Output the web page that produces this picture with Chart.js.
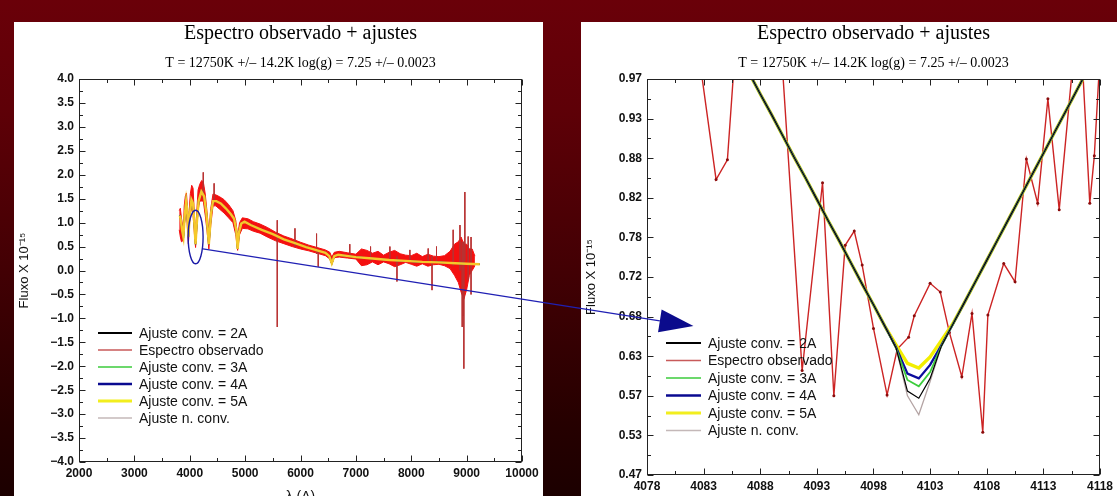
<!DOCTYPE html>
<html><head><meta charset="utf-8">
<script src="https://cdn.jsdelivr.net/npm/chart.js@4.4.0/dist/chart.umd.min.js"></script>
<style>
html,body{margin:0;padding:0;}
body{width:1117px;height:496px;overflow:hidden;position:relative;
 background:linear-gradient(180deg,#6a0009 0%,#5e0007 22%,#420004 55%,#260000 85%,#1c0000 100%);}
.panel{position:absolute;background:#fff;}
#pl{left:14px;top:22px;width:529px;height:474px;}
#pr{left:581px;top:22px;width:536px;height:474px;}
canvas{display:block;}
#ov{position:absolute;left:0;top:0;pointer-events:none;}
</style></head><body>
<div class="panel" id="pl"><canvas id="cl" width="529" height="474"></canvas></div>
<div class="panel" id="pr"><canvas id="cr" width="536" height="474"></canvas></div>
<canvas id="ov" width="1117" height="496"></canvas>
<script>
// ---------- shared text ----------
const chartTitle = 'Espectro observado + ajustes';
const chartSubtitle = 'T = 12750K +/\u2013 14.2K log(g) = 7.25 +/\u2013 0.0023';
const yAxisTitle = 'Fluxo X 10\u207B\u00B9\u2075';
const xAxisTitle = '\u03BB (A)';
const seriesNames = ['Ajuste conv. = 2A','Espectro observado','Ajuste conv. = 3A','Ajuste conv. = 4A','Ajuste conv. = 5A','Ajuste n. conv.'];

// ---------- left chart (full spectrum) ----------
const leftXTicks = [2000,3000,4000,5000,6000,7000,8000,9000,10000];
const leftXTickLabels = ['2000','3000','4000','5000','6000','7000','8000','9000','10000'];
const leftYTicks = [-4,-3.5,-3,-2.5,-2,-1.5,-1,-0.5,0,0.5,1,1.5,2,2.5,3,3.5,4];
const leftYTickLabels = ['\u22124.0','\u22123.5','\u22123.0','\u22122.5','\u22122.0','\u22121.5','\u22121.0','\u22120.5','0.0','0.5','1.0','1.5','2.0','2.5','3.0','3.5','4.0'];

// observed spectrum: noise envelope (upper / lower)
const obsLambda = [3810,3830,3850,3870,3885,3900,3920,3940,3960,3975,
  3990,4010,4035,4060,4085,4105,4125,4150,4180,4215,
  4245,4280,4310,4345,4380,4420,4470,4540,4620,4700,
  4780,4830,4865,4900,4950,5050,5150,5270,5400,5550,
  5700,5850,6000,6150,6300,6450,6530,6565,6610,6700,
  6850,7000,7100,7200,7300,7400,7500,7600,7700,7800,
  7900,8000,8100,8200,8300,8400,8500,8600,8700,8780,
  8850,8900,8950,9000,9050,9100,9150];
const obsHigh = [1.25,1.30,1.10,0.95,0.85,1.35,1.55,1.62,1.30,0.90,
  1.25,1.60,1.78,1.72,1.15,0.75,1.20,1.68,1.80,1.88,
  1.85,1.60,1.25,0.80,1.30,1.60,1.58,1.54,1.48,1.38,
  1.25,1.05,0.72,1.00,1.10,1.08,1.02,0.97,0.90,0.80,
  0.72,0.66,0.59,0.53,0.48,0.43,0.38,0.28,0.38,0.40,
  0.37,0.34,0.45,0.42,0.36,0.40,0.32,0.38,0.42,0.35,
  0.32,0.31,0.36,0.29,0.34,0.30,0.29,0.31,0.40,0.55,
  0.60,0.70,0.55,0.55,0.45,0.45,0.30];
const obsLow = [0.85,0.70,0.60,0.62,0.60,0.95,1.10,1.20,0.85,0.55,
  0.85,1.20,1.30,1.15,0.75,0.48,0.80,1.25,1.45,1.45,
  1.45,1.15,0.85,0.45,0.95,1.35,1.35,1.28,1.20,1.10,
  1.00,0.75,0.42,0.75,0.88,0.87,0.82,0.78,0.70,0.62,
  0.56,0.50,0.45,0.41,0.36,0.31,0.24,0.13,0.27,0.28,
  0.26,0.24,0.10,0.12,0.18,0.12,0.18,0.14,0.08,0.12,
  0.17,0.13,0.09,0.14,0.09,0.12,0.13,0.10,0.04,-0.10,
  -0.25,-0.45,-0.60,-0.40,-0.10,0.00,0.10];
// observed spectrum: isolated spikes
const spikeLambda = [4244,4440,5580,5900,6290,6320,6890,7265,7614,7742,7975,8306,8375,8456,8757,8880,8920,8940,8950,8968,9028,9080];
const spikeHigh =   [2.05,1.82,1.05,0.88,0.77,0.40,0.55,0.50,0.50,0.30,0.43,0.46,0.30,0.50,0.85,0.95,0.60,0.50,0.60,1.64,0.71,0.70];
const spikeLow =    [1.50,1.40,-1.18,0.50,0.35,0.08,0.30,0.20,0.20,-0.23,0.20,0.20,-0.41,0.20,0.10,0.00,-1.18,-0.95,-2.05,0.20,-0.20,-0.50];
// model fit (all convolutions coincide at this scale)
const fitLambda = [3820,3840,3860,3885,3910,3935,3955,3975,3995,4030,
  4060,4085,4105,4125,4160,4210,4260,4300,4345,4385,
  4420,4480,4560,4650,4740,4800,4840,4865,4890,4930,
  4990,5100,5300,5500,5700,5900,6100,6300,6450,6520,
  6565,6610,6680,6800,7000,7300,7600,7900,8200,8500,
  8800,9000,9238];
const fitFlux = [1.15,1.05,0.85,0.70,1.15,1.45,1.25,0.70,1.10,1.48,
  1.40,0.95,0.55,0.95,1.45,1.65,1.55,1.20,0.55,1.20,
  1.45,1.45,1.40,1.30,1.18,1.08,0.85,0.45,0.80,0.98,
  1.02,0.95,0.85,0.76,0.65,0.57,0.49,0.42,0.37,0.30,
  0.15,0.30,0.33,0.31,0.28,0.25,0.22,0.20,0.18,0.17,
  0.15,0.14,0.13];

// ---------- right chart (zoom on H-delta) ----------
const rightXTicks = [4078,4083,4088,4093,4098,4103,4108,4113,4118];
const rightXTickLabels = ['4078','4083','4088','4093','4098','4103','4108','4113','4118'];
const rightYTicks = [0.47,0.52,0.57,0.62,0.67,0.72,0.77,0.82,0.87,0.92,0.97];
const rightYTickLabels = ['0.47','0.53','0.57','0.63','0.68','0.72','0.78','0.82','0.88','0.93','0.97'];

const zoomObsLambda = [4082.4,4084.1,4085.1,4085.9,4089.8,4091.7,4093.5,4094.5,4095.5,4096.3,
  4097.0,4098.0,4099.2,4100.1,4101.1,4101.6,4103.0,4103.9,4104.7,4105.8,
  4106.7,4107.65,4108.1,4109.5,4110.5,4111.5,4112.5,4113.4,4114.4,4115.8,
  4116.3,4117.1,4117.5,4118.2];
const zoomObsFlux = [1.02,0.843,0.868,1.03,1.02,0.602,0.839,0.570,0.760,0.778,
  0.735,0.655,0.571,0.629,0.644,0.671,0.712,0.701,0.650,0.594,
  0.674,0.524,0.672,0.737,0.714,0.869,0.813,0.945,0.805,1.02,
  1.03,0.813,0.873,1.05];

const zoomFitLambda = [4086,4087,4088,4089,4090,4091,4092,4093,4094,4095,4096,4097,4098,4099,4100,4101,4102,4103,4104,4105,4106,4107,4108,4109,4110,4111,4112,4113,4114,4115,4116,4117,4118];
const zoomFit2A = [1.005,0.978,0.951,0.925,0.898,0.871,0.845,0.818,0.791,0.765,0.738,0.711,0.685,0.658,0.630,0.576,0.567,0.592,0.633,0.660,0.687,0.714,0.741,0.768,0.795,0.822,0.849,0.876,0.903,0.930,0.957,0.984,1.011];
const zoomFit3A = [1.005,0.978,0.951,0.925,0.898,0.871,0.845,0.818,0.791,0.765,0.738,0.711,0.685,0.658,0.630,0.590,0.582,0.600,0.633,0.660,0.687,0.714,0.741,0.768,0.795,0.822,0.849,0.876,0.903,0.930,0.957,0.984,1.011];
const zoomFit4A = [1.005,0.978,0.951,0.925,0.898,0.871,0.845,0.818,0.791,0.765,0.738,0.711,0.685,0.658,0.631,0.598,0.592,0.609,0.634,0.660,0.687,0.714,0.741,0.768,0.795,0.822,0.849,0.876,0.903,0.930,0.957,0.984,1.011];
const zoomFit5A = [1.005,0.978,0.951,0.925,0.898,0.871,0.845,0.818,0.791,0.765,0.738,0.711,0.685,0.658,0.634,0.611,0.605,0.619,0.640,0.661,0.687,0.714,0.741,0.768,0.795,0.822,0.849,0.876,0.903,0.930,0.957,0.984,1.011];
const zoomFitN  = [1.005,0.978,0.951,0.925,0.898,0.871,0.845,0.818,0.791,0.765,0.738,0.711,0.685,0.658,0.630,0.570,0.546,0.588,0.633,0.660,0.687,0.714,0.741,0.768,0.795,0.822,0.849,0.876,0.903,0.930,0.957,0.984,1.011];

// annotation (ellipse on left chart, arrow to right chart), in data units
const markEllipse = {x:4106, y:0.70, rx:135, ry:0.56};
const arrowFrom = {x:4238, y:0.45};   // left chart
const arrowTo = {x:4082.1, y:0.658};  // right chart

// ---------- styles ----------
const SANS = '"Liberation Sans", Arial, Helvetica, sans-serif';
const SERIF = '"Liberation Serif", "Times New Roman", serif';
const legendStyle = [
  {color:'#000000', width:2},
  {color:'#c85a5a', width:1.5},
  {color:'#6cd86c', width:2},
  {color:'#0a0a90', width:2.5},
  {color:'#f2ee1e', width:3},
  {color:'#c4b8b8', width:1.5}
];

const pts = (xs, ys) => xs.map((x,i)=>({x, y:ys[i]}));
function spikePts(xs, hi, lo){
  const out = [];
  xs.forEach((x,i)=>{ out.push({x, y:hi[i]}); out.push({x, y:lo[i]}); out.push({x, y:null}); });
  return out;
}

const framePlugin = {
  id:'frame',
  afterDatasetsDraw(chart, args, o){
    const {ctx, chartArea:a, scales} = chart;
    const xs = scales.x, ys = scales.y;
    ctx.save();
    if (o.ellipse){
      const e = o.ellipse;
      const cx = xs.getPixelForValue(e.x), cy = ys.getPixelForValue(e.y);
      const rx = Math.abs(xs.getPixelForValue(e.x+e.rx)-cx), ry = Math.abs(ys.getPixelForValue(e.y+e.ry)-cy);
      ctx.strokeStyle = '#1a1aa8'; ctx.lineWidth = 1.4;
      ctx.beginPath(); ctx.ellipse(cx, cy, rx, ry, 0, 0, Math.PI*2); ctx.stroke();
    }
    const L = Math.round(a.left)+0.5, R = Math.round(a.right)-0.5, T = Math.round(a.top)+0.5, B = Math.round(a.bottom)-0.5;
    ctx.strokeStyle = '#222'; ctx.lineWidth = 1;
    ctx.strokeRect(L, T, R-L, B-T);
    const tickSet = s => {
      const px = s.ticks.map(t => s.getPixelForValue(t.value));
      const mi = [];
      for (let i=0;i<px.length-1;i++) mi.push((px[i]+px[i+1])/2);
      return {px, mi};
    };
    const X = tickSet(xs), Y = tickSet(ys);
    ctx.beginPath();
    const vt = (p, len) => { const q = Math.round(p)+0.5; ctx.moveTo(q,B); ctx.lineTo(q,B-len); ctx.moveTo(q,T); ctx.lineTo(q,T+len); };
    const ht = (p, len) => { const q = Math.round(p)+0.5; ctx.moveTo(L,q); ctx.lineTo(L+len,q); ctx.moveTo(R,q); ctx.lineTo(R-len,q); };
    X.px.forEach(p=>vt(p,6)); X.mi.forEach(p=>vt(p,3.5));
    Y.px.forEach(p=>ht(p,6)); Y.mi.forEach(p=>ht(p,3.5));
    ctx.stroke();
    const lg = o.legend;
    ctx.font = '14px ' + SANS; ctx.textBaseline = 'middle'; ctx.textAlign = 'left';
    seriesNames.forEach((name,i)=>{
      const y = a.top + lg.y + i*lg.dy;
      const st = legendStyle[i];
      ctx.strokeStyle = st.color; ctx.lineWidth = st.width;
      ctx.beginPath(); ctx.moveTo(a.left+lg.x, y); ctx.lineTo(a.left+lg.x+lg.len, y); ctx.stroke();
      ctx.fillStyle = '#111';
      ctx.fillText(name, a.left+lg.x+lg.len+7, y+1);
    });
    const cx = (a.left+a.right)/2;
    ctx.textAlign = 'center'; ctx.fillStyle = '#000';
    ctx.font = '20px ' + SERIF; ctx.fillText(chartTitle, cx, 12);
    ctx.font = '14px ' + SERIF; ctx.fillText(chartSubtitle, cx, 41);
    ctx.restore();
  }
};

const tickFont = {family:SANS, size:12, weight:'bold'};
function axisX(min, max, vals, labels, h, title){
  const ax = {
    type:'linear', min, max,
    afterBuildTicks: s => { s.ticks = vals.map(v=>({value:v})); },
    afterFit: s => { s.height = h; },
    grid:{display:false, drawTicks:false}, border:{display:false},
    ticks:{autoSkip:false, maxRotation:0, padding:4, font:tickFont, color:'#111', callback:(v,i)=>labels[i]}
  };
  if (title) ax.title = {display:true, text:title, font:{family:SANS, size:14}, color:'#111', padding:{top:0, bottom:-10}};
  return ax;
}
function axisY(min, max, vals, labels, w){
  return {
    type:'linear', min, max,
    afterBuildTicks: s => { s.ticks = vals.map(v=>({value:v})); },
    afterFit: s => { s.width = w; },
    grid:{display:false, drawTicks:false}, border:{display:false},
    ticks:{autoSkip:false, padding:5, font:tickFont, color:'#111', callback:(v,i)=>labels[i]},
    title:{display:true, text:yAxisTitle, font:{family:SANS, size:13}, color:'#111', padding:{top:3, bottom:0}}
  };
}
const line = (data, color, width, extra) => Object.assign({data, borderColor:color, borderWidth:width, showLine:true, pointRadius:0, fill:false, clip:0, tension:0}, extra||{});

// ---------- left chart ----------
const leftChart = new Chart(document.getElementById('cl'), {
  type:'scatter',
  data:{datasets:[
    line(pts(fitLambda, fitFlux), '#f5c82a', 2.4, {label:seriesNames[4]}),
    line(pts(fitLambda, fitFlux), '#0a0a90', 1.5, {label:seriesNames[3]}),
    line(pts(fitLambda, fitFlux), '#50d050', 1.5, {label:seriesNames[2]}),
    line(pts(fitLambda, fitFlux), '#000000', 1.2, {label:seriesNames[0]}),
    line(pts(fitLambda, fitFlux), '#b8a8a8', 1.2, {label:seriesNames[5]}),
    line(spikePts(spikeLambda, spikeHigh, spikeLow), '#b83232', 1, {label:seriesNames[1], spanGaps:false}),
    line(pts(obsLambda, obsHigh), '#f41010', 1, {label:seriesNames[1], fill:'+1', backgroundColor:'#f41010'}),
    line(pts(obsLambda, obsLow), '#f41010', 1, {label:seriesNames[1]})
  ]},
  options:{
    responsive:false, animation:false, events:[],
    layout:{padding:{left:0, top:57, right:21, bottom:0}},
    scales:{
      x: axisX(2000, 10000, leftXTicks, leftXTickLabels, 34, xAxisTitle),
      y: axisY(-4, 4, leftYTicks, leftYTickLabels, 65)
    },
    plugins:{legend:{display:false}, tooltip:{enabled:false},
      frame:{legend:{x:19, y:254, dy:17, len:34}, ellipse:markEllipse}}
  },
  plugins:[framePlugin]
});

// ---------- right chart ----------
const rightChart = new Chart(document.getElementById('cr'), {
  type:'scatter',
  data:{datasets:[
    line(pts(zoomFitLambda, zoomFit2A), '#000000', 1.2, {label:seriesNames[0]}),
    line(pts(zoomFitLambda, zoomFitN), '#b4a4a4', 1.3, {label:seriesNames[5]}),
    line(pts(zoomFitLambda, zoomFit3A), '#3ccc3c', 1.8, {label:seriesNames[2]}),
    line(pts(zoomFitLambda, zoomFit4A), '#0c0c9c', 2.3, {label:seriesNames[3]}),
    line(pts(zoomFitLambda, zoomFit5A), '#f2ee00', 3.4, {label:seriesNames[4]}),
    line(pts(zoomObsLambda, zoomObsFlux), '#cc2424', 1.4, {label:seriesNames[1], pointRadius:1.5, pointBackgroundColor:'#8a0c0c', pointBorderWidth:0})
  ]},
  options:{
    responsive:false, animation:false, events:[],
    layout:{padding:{left:0, top:57, right:15, bottom:0}},
    scales:{
      x: axisX(4078, 4118, rightXTicks, rightXTickLabels, 21, null),
      y: axisY(0.47, 0.97, rightYTicks, rightYTickLabels, 66)
    },
    plugins:{legend:{display:false}, tooltip:{enabled:false},
      frame:{legend:{x:19, y:264, dy:17.5, len:35}}}
  },
  plugins:[framePlugin]
});

// ---------- overlay arrow linking the two charts ----------
(function(){
  const ctx = document.getElementById('ov').getContext('2d');
  const lr = document.getElementById('cl').getBoundingClientRect();
  const rr = document.getElementById('cr').getBoundingClientRect();
  const x1 = lr.left + leftChart.scales.x.getPixelForValue(arrowFrom.x);
  const y1 = lr.top + leftChart.scales.y.getPixelForValue(arrowFrom.y);
  const x2 = rr.left + rightChart.scales.x.getPixelForValue(arrowTo.x);
  const y2 = rr.top + rightChart.scales.y.getPixelForValue(arrowTo.y);
  const d = Math.hypot(x2-x1, y2-y1), ux = (x2-x1)/d, uy = (y2-y1)/d;
  const bx = x2 - ux*34, by = y2 - uy*34;
  ctx.strokeStyle = '#2020b4'; ctx.lineWidth = 1.2;
  ctx.beginPath(); ctx.moveTo(x1,y1); ctx.lineTo(bx,by); ctx.stroke();
  ctx.fillStyle = '#0b0b8c';
  ctx.beginPath();
  ctx.moveTo(x2,y2);
  ctx.lineTo(bx - uy*11.5, by + ux*11.5);
  ctx.lineTo(bx + uy*11.5, by - ux*11.5);
  ctx.closePath(); ctx.fill();
})();
</script>
</body></html>
